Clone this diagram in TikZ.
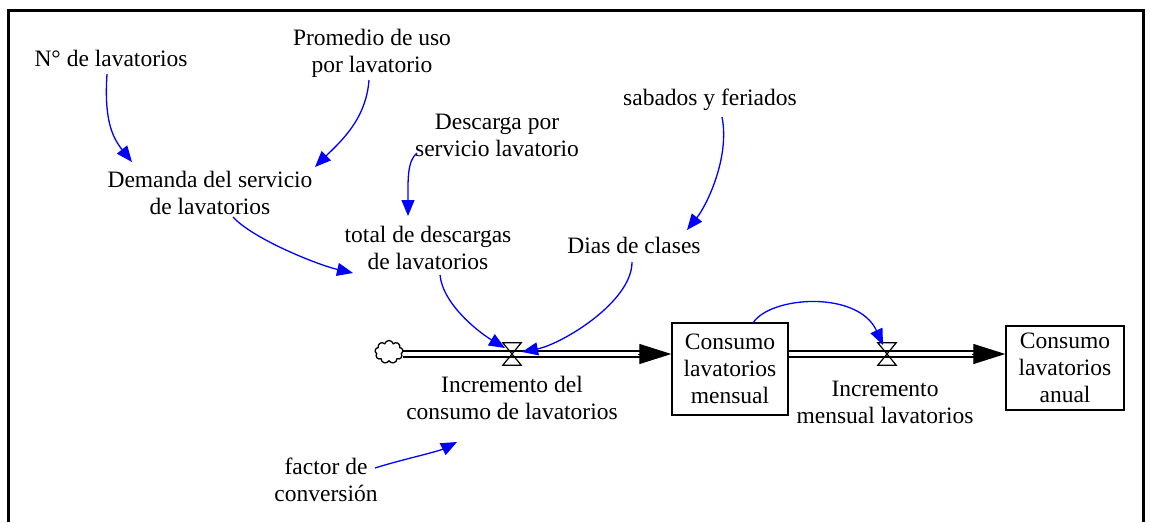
\documentclass[tikz,border=0pt]{standalone}
\usepackage{fontspec}
\setmainfont{Liberation Serif}
\usetikzlibrary{arrows.meta,shapes.symbols}
\definecolor{linkblue}{RGB}{0,0,255}
\tikzset{
  lbl/.style={font=\fontsize{23.5}{27}\selectfont, align=center, inner sep=1pt},
  stockbox/.style={lbl, draw, line width=1.4pt, minimum width=#1},
  link/.style={draw=linkblue, line width=1.3pt, -{Triangle[length=16pt,width=13pt]}},
  pipe/.style={draw, double, double distance=4.5pt, line width=1.3pt},
  pipehead/.style={draw, line width=1pt, -{Triangle[length=32pt,width=20pt]}},
  valveshape/.style={inner sep=0, minimum width=18pt, minimum height=22pt},
  hourglass/.style={draw, line width=1.2pt, line join=miter},
}
\begin{document}
\begin{tikzpicture}[x=1pt,y=-1pt]
\useasboundingbox (0,0) rectangle (1150,522);
% frame
\draw[line width=3pt] (8,522) -- (8,10) -- (1143,10) -- (1143,522);

% auxiliary nodes
\node[lbl] (nlav) at (111,58) {N° de lavatorios};
\node[lbl] (prom) at (372,53) {Promedio de uso\\por lavatorio};
\node[lbl] (desc) at (497,135) {Descarga por\\servicio lavatorio};
\node[lbl] (sab) at (710,100) {sabados y feriados};
\node[lbl] (dem) at (210,193) {Demanda del servicio\\de lavatorios};
\node[lbl] (tot) at (428,248) {total de descargas\\de lavatorios};
\node[lbl] (dias) at (634,245) {Dias de clases};
\node[lbl] (fac) at (326,480) {factor de\\conversión};

% stocks
\node[stockbox=116pt, minimum height=92pt] (box1) at (730,369) {Consumo\\lavatorios\\mensual};
\node[stockbox=118pt, minimum height=84pt] (box2) at (1065,368) {Consumo\\lavatorios\\anual};

% cloud
\node[cloud, cloud puffs=9, cloud ignores aspect, draw, line width=1.3pt, minimum width=28pt, minimum height=23pt, inner sep=0] (cloud) at (389,352) {};

% valves
\node[valveshape] (v1) at (512,354) {};
\node[valveshape] (v2) at (887,354) {};
\node[lbl] (inc1) at (512,398) {Incremento del\\consumo de lavatorios};
\node[lbl] (inc2) at (885,402) {Incremento\\mensual lavatorios};

% pipes
\coordinate (p1e) at (box1.west |- v1);
\coordinate (p2s) at (box1.east |- v1);
\coordinate (p2e) at (box2.west |- v1);
\draw[pipe] (cloud.east |- v1) -- ([xshift=-30pt]p1e);
\draw[pipehead] ([xshift=-33pt]p1e) -- (p1e);
\draw[pipe] (p2s) -- ([xshift=-30pt]p2e);
\draw[pipehead] ([xshift=-33pt]p2e) -- (p2e);

\draw[hourglass] (v1.north west) -- (v1.north east) -- (v1.south west) -- (v1.south east) -- cycle;
\draw[hourglass] (v2.north west) -- (v2.north east) -- (v2.south west) -- (v2.south east) -- cycle;

% links
\draw[link] ([shift={(-4,16)}]nlav.center) .. controls +(-3,45) and +(-20,-25) .. ([shift={(-78,-31)}]dem.center);
\draw[link] ([shift={(-3,27)}]prom.center) .. controls +(-3,40) and +(25,-25) .. ([shift={(105,-26)}]dem.center);
\draw[link] ([shift={(23,24)}]dem.center) .. controls +(20,22) and +(-35,-8) .. ([shift={(-75,25)}]tot.center);
\draw[link] ([shift={(-80,18)}]desc.center) .. controls +(-10,8) and +(0,-35) .. ([shift={(-20,-32)}]tot.center);
\draw[link] ([shift={(12,17)}]sab.center) .. controls +(8,40) and +(20,-25) .. ([shift={(53,-15)}]dias.center);
\draw[link] ([shift={(12,27)}]tot.center) .. controls +(3,30) and +(-25,-15) .. ([shift={(-7,-6)}]v1.center);
\draw[link] ([shift={(-2,17)}]dias.center) .. controls +(0,40) and +(40,-8) .. ([shift={(10,-2)}]v1.center);
\draw[link] ([shift={(49,-12)}]fac.center) .. controls +(25,-8) and +(-20,10) .. ([shift={(-55,44)}]inc1.center);
\draw[link] ([shift={(23,-46)}]box1.center) .. controls +(17,-27) and +(-25,-55) .. ([shift={(-4,-9)}]v2.center);
\end{tikzpicture}
\end{document}
